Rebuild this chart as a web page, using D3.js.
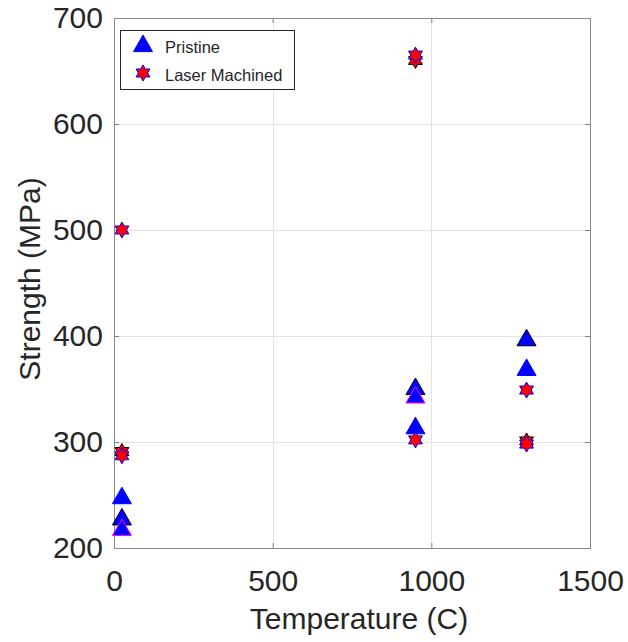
<!DOCTYPE html>
<html lang="en">
<head>
    <meta charset="UTF-8">
    <title>Strength vs Temperature</title>
    <script src="https://d3js.org/d3.v7.min.js"></script>
    <style>
        body { margin: 0; background: #fff; }
        text { font-family: "Liberation Sans", Arial, sans-serif; fill: #262626; }
    </style>
</head>
<body>
<script>
    // data
    var xTicks = [0, 500, 1000, 1500];
    var yTicks = [200, 300, 400, 500, 600, 700];

    // Pristine (triangles) - temperature, strength, edge colour
    var pristineTemp = [25, 25, 25, 950, 950, 950, 1300, 1300];
    var pristineStrength = [248, 228, 218, 314, 351, 343, 369, 397];
    var pristineEdge = ["blue", "black", "magenta", "blue", "black", "magenta", "blue", "black"];

    // Laser machined (hexagrams)
    var laserTemp = [25, 25, 25, 950, 950, 950, 1300, 1300, 1300];
    var laserStrength = [291, 287, 500, 660, 665, 302, 301, 298, 349];
    var laserEdge = ["black", "blue", "blue", "black", "blue", "blue", "black", "blue", "blue"];

    var legendLabels = ["Pristine", "Laser Machined"];

    var W = 628, H = 642;
    var margin = {top: 18, right: 38, bottom: 94, left: 114};
    var width = W - margin.left - margin.right,
        height = H - margin.top - margin.bottom;

    var svg = d3.select("body").append("svg")
        .attr("width", W)
        .attr("height", H);

    var g = svg.append("g")
        .attr("transform", "translate(" + margin.left + "," + margin.top + ")");

    var x = d3.scaleLinear().domain([0, 1500]).range([0, width]);
    var y = d3.scaleLinear().domain([200, 700]).range([height, 0]);

    //grid
    g.selectAll(".vgrid").data(xTicks).enter().append("line")
        .attr("x1", d => Math.round(x(d)) + 0.5).attr("x2", d => Math.round(x(d)) + 0.5)
        .attr("y1", 0).attr("y2", height)
        .attr("stroke", "#e3e3e3");
    g.selectAll(".hgrid").data(yTicks).enter().append("line")
        .attr("y1", d => Math.round(y(d)) + 0.5).attr("y2", d => Math.round(y(d)) + 0.5)
        .attr("x1", 0).attr("x2", width)
        .attr("stroke", "#e3e3e3");

    //axes (ticks inward, box on)
    var tickLen = 5;
    function styleAxis(sel) {
        sel.select(".domain").remove();
        sel.selectAll(".tick line").attr("stroke", "#808080");
        sel.selectAll(".tick text")
            .style("font-family", "'Liberation Sans', Arial, sans-serif")
            .style("font-size", "30px")
            .attr("fill", "#262626");
    }
    g.append("g")
        .attr("transform", "translate(0," + height + ")")
        .call(d3.axisBottom(x).tickValues(xTicks).tickSize(-tickLen).tickPadding(22).tickFormat(d3.format("d")))
        .call(styleAxis);
    g.append("g")
        .call(d3.axisTop(x).tickValues(xTicks).tickSize(-tickLen).tickFormat(""))
        .call(styleAxis);
    g.append("g")
        .call(d3.axisLeft(y).tickValues(yTicks).tickSize(-tickLen).tickPadding(11).tickFormat(d3.format("d")))
        .call(styleAxis);
    g.append("g")
        .attr("transform", "translate(" + width + ",0)")
        .call(d3.axisRight(y).tickValues(yTicks).tickSize(-tickLen).tickFormat(""))
        .call(styleAxis);

    g.append("rect")
        .attr("x", 0.5).attr("y", 0.5)
        .attr("width", width).attr("height", height)
        .attr("fill", "none")
        .attr("stroke", "#8a8a8a");

    //axis titles
    svg.append("text")
        .attr("x", margin.left + width / 2 + 7)
        .attr("y", 629)
        .attr("text-anchor", "middle")
        .style("font-size", "30px")
        .text("Temperature (C)");
    svg.append("text")
        .attr("transform", "translate(40,279) rotate(-90)")
        .attr("text-anchor", "middle")
        .style("font-size", "30px")
        .text("Strength (MPa)");

    //marker shapes
    function triangle(s) {
        var w = s, h = s * 0.87;
        return "M0," + (-h * 0.6) + "L" + (w / 2) + "," + (h * 0.4) + "L" + (-w / 2) + "," + (h * 0.4) + "Z";
    }
    function hexagram(r) {
        var ri = r / Math.sqrt(3), p = [];
        for (var i = 0; i < 12; i++) {
            var a = -Math.PI / 2 + i * Math.PI / 6;
            var rr = i % 2 === 0 ? r : ri;
            p.push([rr * Math.cos(a), rr * Math.sin(a)]);
        }
        return "M" + p.map(q => q.join(",")).join("L") + "Z";
    }

    var pristine = pristineTemp.map((t, i) => ({t: t, s: pristineStrength[i], e: pristineEdge[i]}));
    var laser = laserTemp.map((t, i) => ({t: t, s: laserStrength[i], e: laserEdge[i]}));

    g.selectAll(".tri").data(pristine).enter().append("path")
        .attr("d", triangle(19))
        .attr("transform", d => "translate(" + x(d.t) + "," + y(d.s) + ")")
        .attr("fill", "blue")
        .attr("stroke", d => d.e)
        .attr("stroke-width", 1);

    g.selectAll(".hex").data(laser).enter().append("path")
        .attr("d", hexagram(8))
        .attr("transform", d => "translate(" + x(d.t) + "," + y(d.s) + ")")
        .attr("fill", "red")
        .attr("stroke", d => d.e)
        .attr("stroke-width", 1);

    //legend
    var legend = svg.append("g").attr("transform", "translate(120,30)");
    legend.append("rect")
        .attr("x", 0.5).attr("y", 0.5)
        .attr("width", 174).attr("height", 59)
        .attr("fill", "#fff")
        .attr("stroke", "#262626");
    legend.append("path")
        .attr("d", triangle(19))
        .attr("transform", "translate(23,15)")
        .attr("fill", "blue").attr("stroke", "blue");
    legend.append("path")
        .attr("d", hexagram(8))
        .attr("transform", "translate(23,43)")
        .attr("fill", "red").attr("stroke", "blue");
    legend.selectAll(".lt").data(legendLabels).enter().append("text")
        .attr("x", 45)
        .attr("y", (d, i) => 22.5 + i * 28)
        .style("font-size", "16.5px")
        .text(d => d);
</script>
</body>
</html>
